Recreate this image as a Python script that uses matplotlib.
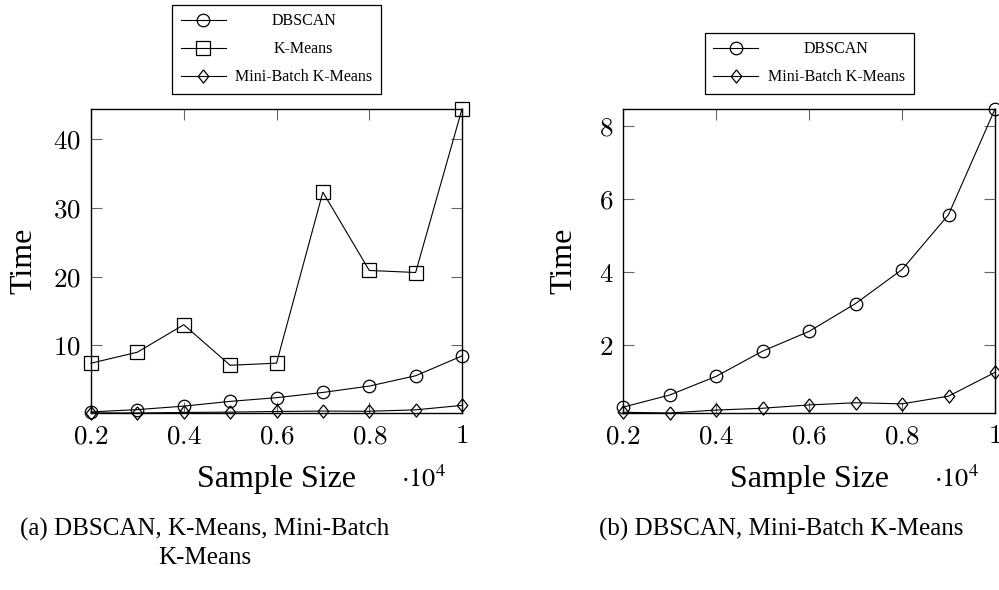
import matplotlib
matplotlib.use("Agg")
import matplotlib.pyplot as plt
import matplotlib.transforms as mtransforms
import numpy as np

# data
sample_size = [2000, 3000, 4000, 5000, 6000, 7000, 8000, 9000, 10000]
dbscan = [0.31, 0.64, 1.15, 1.84, 2.38, 3.14, 4.07, 5.57, 8.46]
kmeans = [7.4, 9.0, 13.0, 7.1, 7.4, 32.3, 20.9, 20.6, 44.4]
minibatch = [0.17, 0.15, 0.23, 0.28, 0.37, 0.43, 0.40, 0.61, 1.26]

x_ticks = [0.2, 0.4, 0.6, 0.8, 1.0]
x_ticklabels = ["0.2", "0.4", "0.6", "0.8", "1"]
left_yticks = [10, 20, 30, 40]
right_yticks = [2, 4, 6, 8]

caption_a = "(a) DBSCAN, K-Means, Mini-Batch\nK-Means"
caption_b = "(b) DBSCAN, Mini-Batch K-Means"

plt.rcParams["font.family"] = ["Liberation Serif", "DejaVu Serif"]
plt.rcParams["mathtext.fontset"] = "cm"

# pgfplots style diamond (a bit narrower than tall)
DIAMOND = [(0, 1), (0.8, 0), (0, -1), (-0.8, 0), (0, 1)]

W, H = 999, 590
fig = plt.figure(figsize=(W / 100, H / 100), dpi=100)


def px_axes(x0, x1, y0, y1):
    return fig.add_axes([x0 / W, 1 - y1 / H, (x1 - x0) / W, (y1 - y0) / H])


def style_axes(ax, yticks, ylabel_x):
    for s in ax.spines.values():
        s.set_linewidth(1.0)
    ax.tick_params(direction="in", length=8, width=0.8, color="0.4",
                   top=True, right=True, labelsize=19.5)
    ax.tick_params(axis="x", pad=8)
    ax.tick_params(axis="y", pad=7)
    ax.set_xticks(x_ticks)
    ax.set_xticklabels(["$%s$" % t for t in x_ticklabels])
    ax.set_yticks(yticks)
    ax.set_yticklabels(["$%d$" % t for t in yticks])
    ax.set_xlim(0.2, 1.0)
    ax.set_xlabel("Sample Size", fontsize=23)
    ax.xaxis.set_label_coords(0.5, -0.243)
    ax.xaxis.label.set_va("baseline")
    ax.set_ylabel("Time", fontsize=23)
    ax.yaxis.set_label_coords(ylabel_x, 0.5)
    ax.text(0.957, -0.243, r"$\cdot 10^4$", transform=ax.transAxes,
            ha="right", va="baseline", fontsize=19, math_fontfamily="stix")


def plot_series(ax, y, marker, ms, label):
    x = np.array(sample_size) / 1e4
    ax.plot(x, y, color="black", lw=0.8, marker=marker, ms=ms,
            mfc="none", mec="black", mew=0.9, clip_on=False, label=label)


def make_legend(ax):
    leg = ax.legend(loc="lower center", bbox_to_anchor=(0.5, 1.049),
                    fontsize=11.5, handlelength=2.8, handletextpad=0.6,
                    labelspacing=0.75, borderpad=0.55, borderaxespad=0,
                    fancybox=False, edgecolor="black", framealpha=1)
    leg.get_frame().set_linewidth(0.9)
    return leg


def center_legend_text(leg):
    # pgfplots centres legend entries in their column
    fig.canvas.draw()
    r = fig.canvas.get_renderer()
    texts = leg.get_texts()
    ws = [t.get_window_extent(r).width for t in texts]
    m = max(ws)
    for t, w in zip(texts, ws):
        t.set_transform(t.get_transform() + mtransforms.Affine2D().translate((m - w) / 2, 0))


# (a)
ax1 = px_axes(91, 462, 109, 413)
plot_series(ax1, dbscan, "o", 9, "DBSCAN")
plot_series(ax1, kmeans, "s", 10, "K-Means")
plot_series(ax1, minibatch, DIAMOND, 9.5, "Mini-Batch K-Means")
ax1.set_ylim(min(dbscan + kmeans + minibatch), max(dbscan + kmeans + minibatch))
style_axes(ax1, left_yticks, -0.143)
leg1 = make_legend(ax1)

# (b)
ax2 = px_axes(623, 995, 109, 413)
plot_series(ax2, dbscan, "o", 9, "DBSCAN")
plot_series(ax2, minibatch, DIAMOND, 9.5, "Mini-Batch K-Means")
ax2.set_ylim(min(dbscan + minibatch), max(dbscan + minibatch))
style_axes(ax2, right_yticks, -0.121)
leg2 = make_legend(ax2)

fig.text(205 / W, 1 - 564 / H, caption_a, ha="center", va="baseline",
         multialignment="center", fontsize=18, linespacing=1.36)
fig.text(781 / W, 1 - 536 / H, caption_b, ha="center", va="baseline", fontsize=18)

center_legend_text(leg1)
center_legend_text(leg2)

fig.savefig("out.png", dpi=100)
